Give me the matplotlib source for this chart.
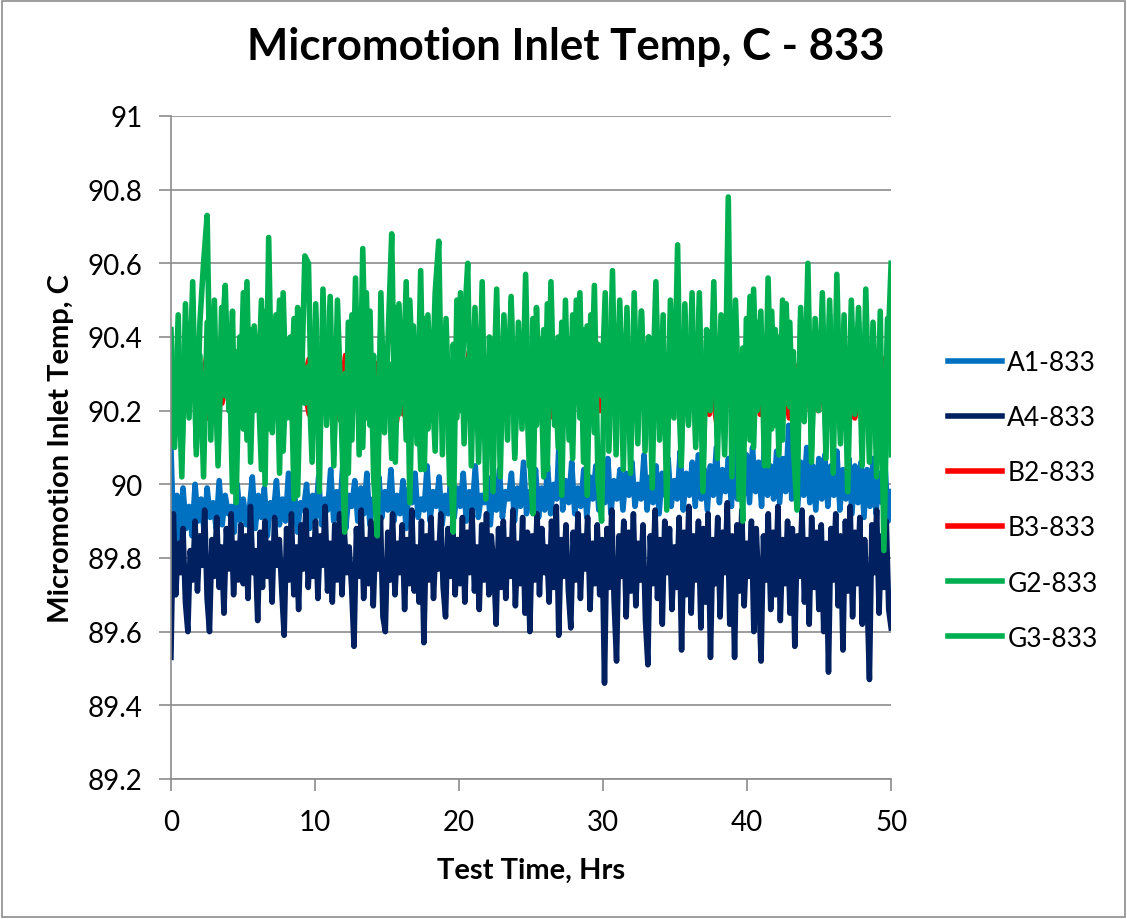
import numpy as np
import matplotlib.pyplot as plt
from matplotlib.ticker import FuncFormatter

plt.rcParams['font.family'] = ['Lato', 'DejaVu Sans']

# temperatures (deg C), samples evenly spread over 0-50 hrs
a1 = [90.10, 89.82, 89.97, 89.85, 89.99, 89.88, 89.94, 89.86, 90.00, 89.90, 89.96, 89.87,
      89.99, 89.91, 89.95, 89.88, 90.01, 89.89, 89.97, 89.92, 89.94, 89.87, 90.00, 89.90,
      89.96, 89.89, 89.93, 90.02, 89.88, 89.97, 89.91, 89.99, 89.86, 89.95, 89.92, 90.01,
      89.89, 89.96, 89.90, 90.03, 89.92, 89.98, 89.87, 89.95, 89.93, 90.00, 89.88, 89.97,
      89.91, 90.02, 89.89, 89.96, 89.93, 90.04, 89.90, 89.98, 89.92, 90.05, 89.88, 89.97,
      89.94, 90.01, 89.90, 89.99, 89.92, 90.03, 89.89, 89.96, 89.94, 90.02, 89.91, 89.98,
      89.93, 90.04, 89.90, 89.97, 89.92, 90.01, 89.88, 89.99, 89.95, 90.03, 89.91, 89.96,
      89.93, 90.05, 89.90, 89.98, 89.94, 90.02, 89.89, 89.97, 89.92, 90.04, 89.91, 89.99,
      89.94, 90.03, 89.90, 89.98, 89.93, 90.05, 89.91, 89.97, 89.95, 90.02, 89.89, 90.00,
      89.93, 90.04, 89.91, 89.98, 89.96, 90.03, 89.90, 89.99, 89.94, 90.06, 89.92, 89.98,
      89.95, 90.04, 89.91, 89.99, 89.93, 90.05, 89.92, 90.00, 89.96, 90.16, 89.93, 90.01,
      89.95, 90.06, 89.92, 89.99, 89.94, 90.04, 89.91, 90.02, 89.96, 90.05, 89.93, 90.00,
      89.95, 90.07, 89.92, 90.01, 89.96, 90.04, 89.93, 90.03, 89.97, 90.06, 89.94, 90.00,
      89.96, 90.08, 89.93, 90.02, 89.95, 90.05, 89.92, 90.03, 89.97, 90.07, 89.94, 90.01,
      89.96, 90.09, 89.93, 90.03, 89.97, 90.06, 89.94, 90.08, 89.96, 90.04, 89.93, 90.05,
      89.97, 90.10, 89.95, 90.04, 89.98, 90.07, 89.94, 90.12, 89.96, 90.05, 89.97, 90.08,
      89.95, 90.10, 89.98, 90.06, 89.94, 90.12, 89.97, 90.05, 89.96, 90.09, 89.95, 90.07,
      89.98, 90.16, 89.96, 90.08, 89.94, 90.06, 89.97, 90.10, 89.95, 90.05, 89.93, 90.07,
      89.96, 90.08, 89.94, 90.05, 89.97, 90.09, 89.93, 90.04, 89.96, 90.07, 89.92, 90.05,
      89.95, 90.06, 89.91, 90.04, 89.94, 90.07, 89.92, 90.03, 89.95, 90.05, 89.90, 89.98]

a4 = [89.53, 89.92, 89.70, 89.84, 89.76, 89.88, 89.68, 89.60, 89.82, 89.74, 89.90, 89.71, 89.86, 89.78, 89.93,
      89.69, 89.60, 89.85, 89.75, 89.91, 89.72, 89.83, 89.65, 89.88, 89.77, 89.92, 89.70, 89.84, 89.74, 89.89,
      89.73, 89.86, 89.69, 89.94, 89.76, 89.82, 89.63, 89.87, 89.72, 89.90, 89.75, 89.84, 89.68, 89.91, 89.78,
      89.85, 89.71, 89.59, 89.88, 89.74, 89.92, 89.70, 89.83, 89.66, 89.89, 89.77, 89.93, 89.72, 89.85, 89.75,
      89.90, 89.69, 89.86, 89.78, 89.94, 89.71, 89.84, 89.68, 89.89, 89.74, 89.92, 89.70, 89.87, 89.76, 89.83,
      89.72, 89.56, 89.88, 89.75, 89.93, 89.69, 89.85, 89.73, 89.90, 89.67, 89.86, 89.77, 89.91, 89.64, 89.60,
      89.87, 89.74, 89.92, 89.70, 89.84, 89.76, 89.89, 89.66, 89.85, 89.73, 89.93, 89.71, 89.83, 89.68, 89.90,
      89.57, 89.86, 89.74, 89.91, 89.69, 89.84, 89.77, 89.92, 89.72, 89.64, 89.88, 89.75, 89.90, 89.70, 89.85,
      89.73, 89.91, 89.68, 89.87, 89.76, 89.93, 89.71, 89.83, 89.66, 89.89, 89.74, 89.92, 89.70, 89.86, 89.78,
      89.62, 89.88, 89.72, 89.90, 89.69, 89.85, 89.75, 89.93, 89.67, 89.84, 89.73, 89.91, 89.65, 89.87, 89.60,
      89.86, 89.74, 89.92, 89.70, 89.88, 89.76, 89.83, 89.68, 89.90, 89.72, 89.94, 89.59, 89.85, 89.75, 89.89,
      89.71, 89.61, 89.87, 89.74, 89.92, 89.69, 89.86, 89.77, 89.91, 89.66, 89.84, 89.73, 89.89, 89.70, 89.85,
      89.46, 89.88, 89.72, 89.93, 89.68, 89.52, 89.86, 89.75, 89.90, 89.64, 89.87, 89.71, 89.92, 89.67, 89.84,
      89.74, 89.89, 89.63, 89.51, 89.86, 89.73, 89.93, 89.69, 89.85, 89.62, 89.90, 89.76, 89.88, 89.66, 89.83,
      89.72, 89.91, 89.55, 89.87, 89.70, 89.94, 89.65, 89.86, 89.74, 89.90, 89.61, 89.88, 89.68, 89.92, 89.53,
      89.85, 89.73, 89.91, 89.64, 89.87, 89.76, 89.95, 89.62, 89.86, 89.53, 89.89, 89.71, 89.93, 89.67, 89.84,
      89.75, 89.90, 89.60, 89.88, 89.72, 89.52, 89.86, 89.74, 89.92, 89.66, 89.87, 89.70, 89.94, 89.63, 89.85,
      89.73, 89.90, 89.65, 89.88, 89.56, 89.86, 89.75, 89.93, 89.68, 89.85, 89.62, 89.91, 89.72, 89.87, 89.66,
      89.89, 89.60, 89.84, 89.49, 89.88, 89.74, 89.92, 89.67, 89.86, 89.55, 89.90, 89.71, 89.94, 89.64, 89.87,
      89.73, 89.91, 89.62, 89.85, 89.70, 89.47, 89.89, 89.76, 89.93, 89.65, 89.86, 89.72, 89.90, 89.66, 89.61]

b2 = [90.11, 90.34, 90.20, 90.31, 90.22, 90.36, 90.19, 90.30, 90.24, 90.33,
      90.18, 90.29, 90.25, 90.35, 90.21, 90.32, 90.19, 90.28, 90.26, 90.34,
      90.20, 90.31, 90.23, 90.36, 90.18, 90.30, 90.25, 90.33, 90.21, 90.29,
      90.24, 90.35, 90.19, 90.32, 90.22, 90.30, 90.26, 90.34, 90.18, 90.31,
      90.23, 90.36, 90.20, 90.29, 90.25, 90.33, 90.19, 90.35, 90.22, 90.30,
      90.24, 90.34, 90.18, 90.32, 90.21, 90.36, 90.23, 90.30, 90.20, 90.33,
      90.19, 90.35, 90.22, 90.29, 90.25, 90.34, 90.18, 90.31, 90.24, 90.36,
      90.20, 90.30, 90.23, 90.33, 90.19, 90.35, 90.26, 90.29, 90.21, 90.34,
      90.18, 90.32, 90.24, 90.36, 90.20, 90.30, 90.22, 90.33, 90.19, 90.35,
      90.25, 90.31, 90.21, 90.34, 90.18, 90.29, 90.23, 90.36, 90.20, 90.33]

b3 = [90.28, 90.20, 90.33, 90.23, 90.30, 90.18, 90.35, 90.22, 90.31, 90.19,
      90.34, 90.24, 90.29, 90.17, 90.33, 90.21, 90.36, 90.25, 90.30, 90.19,
      90.32, 90.22, 90.28, 90.18, 90.35, 90.24, 90.31, 90.20, 90.33, 90.23,
      90.29, 90.17, 90.34, 90.22, 90.30, 90.19, 90.36, 90.25, 90.31, 90.21,
      90.33, 90.18, 90.29, 90.24, 90.35, 90.20, 90.32, 90.23, 90.28, 90.19,
      90.34, 90.22, 90.30, 90.18, 90.33, 90.25, 90.29, 90.21, 90.35, 90.20,
      90.31, 90.24, 90.36, 90.19, 90.30, 90.22, 90.34, 90.18, 90.32, 90.25,
      90.28, 90.20, 90.35, 90.23, 90.31, 90.17, 90.33, 90.21, 90.29, 90.24,
      90.36, 90.19, 90.30, 90.22, 90.34, 90.18, 90.32, 90.25, 90.29, 90.20,
      90.35, 90.23, 90.31, 90.19, 90.33, 90.21, 90.28, 90.24, 90.34, 90.32]

g2 = [90.42, 90.10, 90.36, 90.02, 90.49, 90.18, 90.55, 90.08, 90.44, 90.60,
      90.73, 90.12, 90.50, 90.05, 90.38, 90.54, 90.20, 90.47, 89.95, 90.40,
      90.15, 90.55, 90.06, 90.43, 90.22, 90.50, 90.00, 90.67, 90.14, 90.46,
      90.03, 90.52, 90.18, 90.40, 89.96, 90.48, 90.24, 90.62, 90.60, 90.10,
      90.45, 89.98, 90.53, 90.16, 90.41, 90.05, 90.50, 90.20, 89.87, 90.44,
      90.12, 90.56, 90.08, 90.64, 90.18, 90.47, 90.02, 89.86, 90.52, 90.14,
      90.40, 90.68, 90.06, 90.49, 90.22, 90.55, 89.95, 90.43, 90.11, 90.58,
      90.04, 90.46, 90.19, 90.52, 90.66, 90.08, 90.45, 90.15, 89.87, 90.50,
      90.20, 90.42, 90.60, 90.05, 90.48, 90.13, 90.55, 89.96, 90.40, 90.18,
      90.53, 90.02, 90.46, 90.22, 90.50, 90.07, 90.44, 90.15, 90.57, 90.10,
      89.92, 90.48, 90.19, 90.42, 90.04, 90.55, 90.16, 90.40, 89.97, 90.50,
      90.12, 90.46, 90.23, 90.52, 90.06, 90.43, 90.18, 90.54, 90.01, 89.90,
      90.45, 90.14, 90.58, 90.08, 90.50, 90.20, 90.44, 90.03, 90.52, 90.16,
      90.47, 90.09, 90.40, 90.22, 90.55, 90.12, 90.46, 89.93, 90.50, 90.18,
      90.65, 90.05, 90.44, 90.16, 90.52, 90.10, 90.48, 89.98, 90.42, 90.20,
      90.55, 90.07, 90.46, 90.14, 90.78, 90.02, 90.50, 90.18, 89.90, 90.45,
      90.12, 90.53, 90.20, 90.47, 90.05, 90.56, 90.15, 90.42, 90.08, 90.50,
      90.22, 90.44, 90.10, 89.93, 90.48, 90.17, 90.60, 90.06, 90.45, 90.20,
      90.52, 90.11, 90.46, 90.03, 90.57, 90.15, 90.42, 90.08, 90.50, 90.19,
      90.44, 90.05, 90.53, 90.14, 90.40, 90.02, 90.47, 89.82, 90.33, 90.60]

g3 = [90.30, 90.14, 90.46, 90.06, 90.38, 90.22, 90.50, 90.10, 90.35, 90.02,
      90.44, 90.18, 90.33, 90.08, 90.48, 90.24, 90.40, 89.98, 90.36, 90.16,
      90.52, 90.12, 90.42, 90.20, 90.30, 90.04, 90.47, 90.15, 90.38, 90.25,
      90.50, 90.09, 90.34, 90.18, 90.45, 89.97, 90.40, 90.22, 90.32, 90.06,
      90.49, 90.14, 90.37, 90.24, 90.51, 90.08, 90.43, 90.17, 90.30, 90.03,
      90.46, 90.21, 90.39, 90.10, 90.52, 90.16, 90.35, 89.96, 90.44, 90.20,
      90.33, 90.07, 90.48, 90.19, 90.41, 90.12, 90.50, 90.23, 90.36, 90.04,
      90.45, 90.15, 90.31, 90.09, 90.47, 90.21, 90.40, 90.00, 90.38, 90.18,
      90.52, 90.11, 90.34, 90.24, 90.46, 90.06, 90.42, 90.17, 90.30, 89.98,
      90.48, 90.20, 90.37, 90.12, 90.51, 90.08, 90.40, 90.22, 90.33, 90.05,
      90.45, 90.16, 90.39, 90.02, 90.49, 90.23, 90.35, 90.10, 90.44, 90.19,
      90.31, 90.07, 90.50, 90.18, 90.42, 89.97, 90.46, 90.14, 90.38, 90.24,
      90.52, 90.09, 90.36, 90.20, 90.44, 90.04, 90.48, 90.16, 90.33, 90.11,
      90.47, 90.22, 90.40, 89.99, 90.50, 90.15, 90.37, 90.08, 90.45, 90.21,
      90.34, 90.06, 90.49, 90.17, 90.41, 90.12, 90.52, 90.03, 90.39, 90.23,
      90.46, 90.13, 90.35, 90.08, 90.48, 90.20, 90.42, 89.96, 90.37, 90.18,
      90.51, 90.10, 90.44, 90.24, 90.33, 90.05, 90.47, 90.16, 90.40, 90.12,
      90.49, 90.21, 90.36, 90.02, 90.45, 90.18, 90.52, 90.09, 90.38, 90.22,
      90.43, 90.07, 90.50, 90.15, 90.35, 90.11, 90.46, 89.98, 90.41, 90.20,
      90.48, 90.13, 90.37, 90.06, 90.44, 90.19, 90.34, 90.02, 90.45, 90.08]

names = ['A1-833', 'A4-833', 'B2-833', 'B3-833', 'G2-833', 'G3-833']
data = [a1, a4, b2, b3, g2, g3]
colors = ['#0070C0', '#002060', '#FF0000', '#FF0000', '#00B050', '#00B050']

fig = plt.figure(figsize=(11.27, 9.2), dpi=100)
ax = fig.add_axes([0.1517, 0.1522, 0.639, 0.7207])

for name, vals, col in zip(names, data, colors):
    t = np.linspace(0, 50, len(vals))
    ax.plot(t, vals, color=col, lw=4.0, label=name, solid_joinstyle='round')

ax.set_xlim(0, 50)
ax.set_ylim(89.2, 91)
ax.set_xticks([0, 10, 20, 30, 40, 50])
ax.set_yticks(np.arange(89.2, 91.01, 0.2))
ax.yaxis.set_major_formatter(FuncFormatter(lambda v, p: '%g' % round(v, 1)))
ax.grid(axis='y', color='#8c8c8c', lw=1.2)
ax.set_axisbelow(True)
for s in ['top', 'right']:
    ax.spines[s].set_visible(False)
for s in ['left', 'bottom']:
    ax.spines[s].set_color('#8c8c8c')
    ax.spines[s].set_linewidth(1.2)
ax.tick_params(labelsize=20, length=8.5, width=1.2, color='#8c8c8c')
ax.tick_params(axis='y', pad=12)
ax.tick_params(axis='x', pad=13)

ax.set_xlabel('Test Time, Hrs', fontsize=21, fontweight='bold', labelpad=16)
ax.set_ylabel('Micromotion Inlet Temp, C', fontsize=21, fontweight='bold', labelpad=10)
fig.text(0.502, 0.9348, 'Micromotion Inlet Temp, C - 833', fontsize=31.5,
         fontweight='bold', ha='center', va='baseline')

fig.legend(loc='center left', bbox_to_anchor=(0.820, 0.455), frameon=False,
           fontsize=19, handlelength=2.05, labelspacing=1.14, handletextpad=0.2)

# outer chart border
fig.patches.append(plt.Rectangle((0.002, 0.002), 0.996, 0.996, transform=fig.transFigure,
                                 fill=False, edgecolor='#8c8c8c', lw=1.2))

fig.savefig('out.png', dpi=100)
